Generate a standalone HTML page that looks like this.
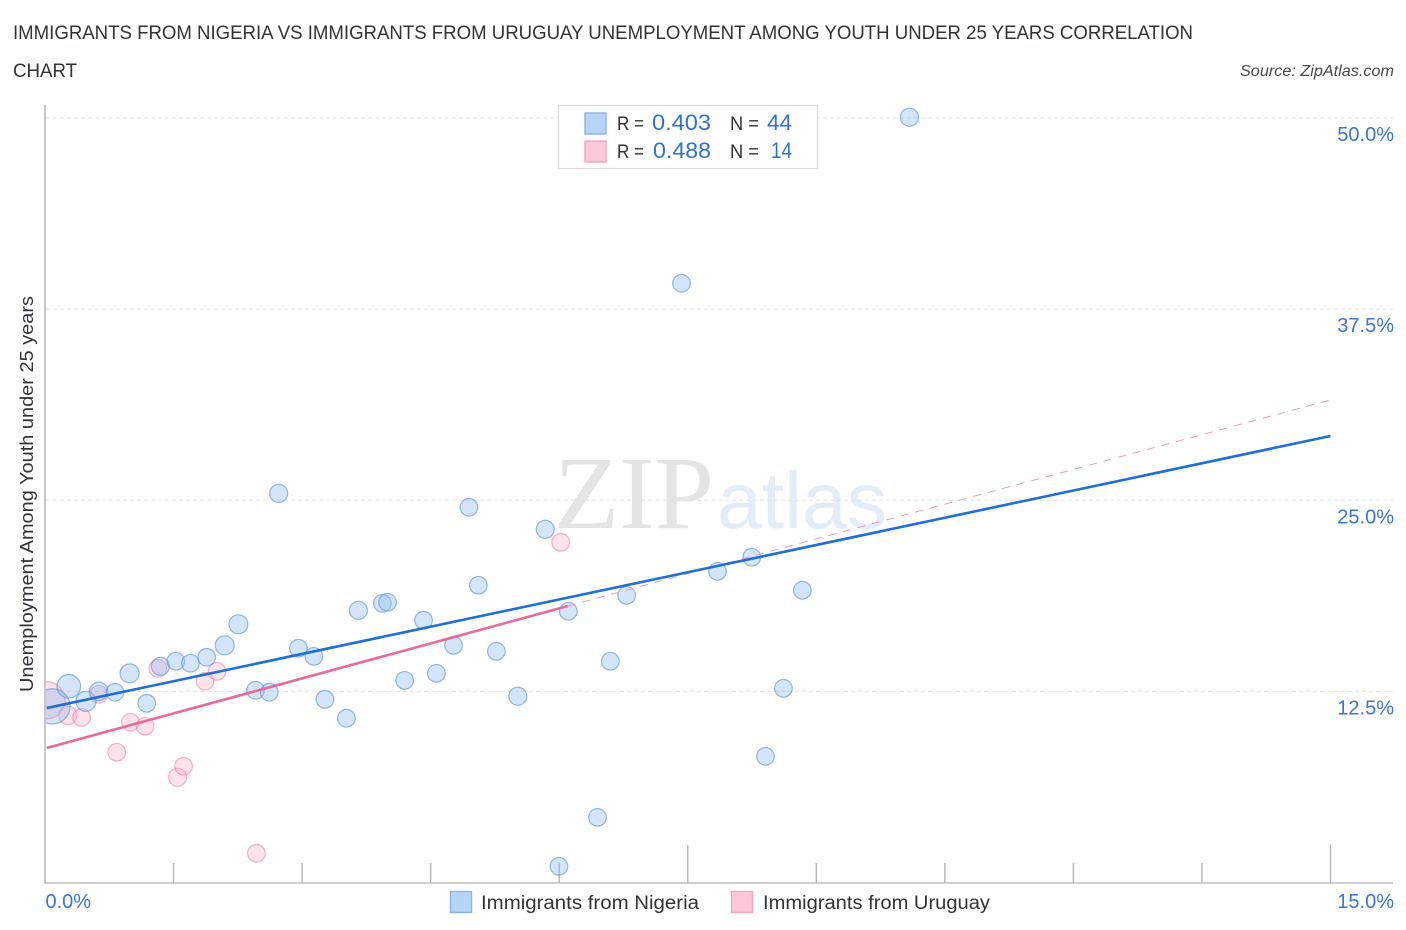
<!DOCTYPE html>
<html lang="en">
<head>
<meta charset="utf-8">
<title>Immigrants from Nigeria vs Immigrants from Uruguay Unemployment Among Youth Under 25 Years Correlation Chart</title>
<style>
  html, body { margin: 0; padding: 0; background: #ffffff; }
  svg { display: block; font-family: "Liberation Sans", sans-serif; }
</style>
</head>
<body>
<svg id="chart" width="1406" height="930" viewBox="0 0 1406 930" xmlns="http://www.w3.org/2000/svg">
  <defs>
    <clipPath id="plot-clip"><rect x="46" y="100" width="1350" height="782"></rect></clipPath>
  </defs>
  <rect x="0" y="0" width="1406" height="930" fill="#ffffff"></rect>

  <text x="13" y="39" font-size="19.5" fill="#2f3338" textLength="1180" lengthAdjust="spacingAndGlyphs">IMMIGRANTS FROM NIGERIA VS IMMIGRANTS FROM URUGUAY UNEMPLOYMENT AMONG YOUTH UNDER 25 YEARS CORRELATION</text>
  <text x="13" y="77" font-size="19.5" fill="#2f3338" textLength="64" lengthAdjust="spacingAndGlyphs">CHART</text>
  <text x="1394" y="76" font-size="15.5" font-style="italic" fill="#44484d" text-anchor="end" textLength="154" lengthAdjust="spacingAndGlyphs">Source: ZipAtlas.com</text>

  <g id="watermark">
    <text x="554" y="528" font-family="'Liberation Serif', serif" font-size="104" fill="#e4e4e4" textLength="160" lengthAdjust="spacingAndGlyphs">ZIP</text>
    <text x="717" y="528" font-size="80" fill="#e3ecf9" textLength="170" lengthAdjust="spacingAndGlyphs">atlas</text>
  </g>

  <g id="grid-layer"></g>
  <g id="axis-layer"></g>
  <g clip-path="url(#plot-clip)">
    <g id="uruguay-points" transform="translate(0.6,0.3)"></g>
    <g id="nigeria-points" transform="translate(0.6,0.3)"></g>
  </g>
  <g id="trend-layer"></g>

  <text transform="translate(33,494) rotate(-90)" font-size="18.5" fill="#2f3338" text-anchor="middle" textLength="396" lengthAdjust="spacingAndGlyphs">Unemployment Among Youth under 25 years</text>

  <g>
    <rect x="558.5" y="105.5" width="259" height="63" fill="#ffffff" stroke="#dcdcdc" stroke-width="1.2"></rect>
    <rect x="585" y="113" width="21" height="21" fill="#b8d3f8" stroke="#8db4e8" stroke-width="1.4"></rect>
    <rect x="585" y="141" width="21" height="21" fill="#fcc8da" stroke="#f2a6bf" stroke-width="1.4"></rect>
    <text x="617" y="130" font-size="19" fill="#2f3338" textLength="27" lengthAdjust="spacingAndGlyphs">R =</text>
    <text x="711" y="130" font-size="22" fill="#2f72d4" text-anchor="end" textLength="59" lengthAdjust="spacingAndGlyphs">0.403</text>
    <text x="730" y="130" font-size="19" fill="#2f3338" textLength="29" lengthAdjust="spacingAndGlyphs">N =</text>
    <text x="792" y="130" font-size="22" fill="#2f72d4" text-anchor="end" textLength="25" lengthAdjust="spacingAndGlyphs">44</text>
    <text x="617" y="158" font-size="19" fill="#2f3338" textLength="27" lengthAdjust="spacingAndGlyphs">R =</text>
    <text x="711" y="158" font-size="22" fill="#2f72d4" text-anchor="end" textLength="58" lengthAdjust="spacingAndGlyphs">0.488</text>
    <text x="730" y="158" font-size="19" fill="#2f3338" textLength="29" lengthAdjust="spacingAndGlyphs">N =</text>
    <text x="792" y="158" font-size="22" fill="#2f72d4" text-anchor="end" textLength="21" lengthAdjust="spacingAndGlyphs">14</text>
  </g>

  <g>
    <rect x="450.5" y="891.5" width="21" height="21" fill="#b8d3f8" stroke="#8db4e8" stroke-width="1.4"></rect>
    <text x="481" y="909" font-size="19" fill="#2f3338" textLength="218" lengthAdjust="spacingAndGlyphs">Immigrants from Nigeria</text>
    <rect x="731.5" y="891.5" width="21" height="21" fill="#fcc8da" stroke="#f2a6bf" stroke-width="1.4"></rect>
    <text x="763" y="909" font-size="19" fill="#2f3338" textLength="227" lengthAdjust="spacingAndGlyphs">Immigrants from Uruguay</text>
  </g>
</svg>

<script>
// Chart data
var yTickValues = [12.5, 25, 37.5, 50];
var yTickLabels = ["12.5%", "25.0%", "37.5%", "50.0%"];
var xTickValues = [0, 1.5, 3, 4.5, 6, 7.5, 9, 10.5, 12, 13.5, 15];
var xMajorTicks = [7.5, 15];
var xEndValues = [0, 15];
var xEndLabels = ["0.0%", "15.0%"];

var nigeriaX = [0.08, 0.27, 0.47, 0.62, 0.81, 0.98, 1.18, 1.34, 1.52, 1.69, 1.88, 2.09, 2.25, 2.45, 2.61, 2.72, 2.95, 3.13, 3.26, 3.51, 3.65, 3.93, 3.99, 4.19, 4.41, 4.56, 4.76, 4.94, 5.05, 5.26, 5.51, 5.83, 5.99, 6.10, 6.44, 6.59, 6.78, 7.42, 7.84, 8.24, 8.40, 8.61, 8.83, 10.08];
var nigeriaY = [11.54, 12.85, 11.87, 12.52, 12.46, 13.70, 11.74, 14.16, 14.49, 14.36, 14.75, 15.53, 16.91, 12.59, 12.46, 25.47, 15.34, 14.81, 12.00, 10.76, 17.82, 18.28, 18.35, 13.24, 17.17, 13.70, 15.53, 24.56, 19.46, 15.14, 12.20, 23.12, 1.08, 17.76, 4.28, 14.49, 18.80, 39.21, 20.37, 21.29, 8.27, 12.72, 19.13, 50.07];
var nigeriaWeight = [4, 1.8, 1.3, 1.1, 1, 1.15, 1, 1.05, 1, 1, 1, 1.15, 1.15, 1, 1, 1.05, 1, 1, 1, 1, 1.05, 1, 1, 1, 1, 1, 1, 1, 1, 1, 1.05, 1.05, 1, 1, 1, 1, 1, 1, 1, 1, 1, 1, 1, 1.05];

var uruguayX = [0.01, 0.26, 0.42, 0.62, 0.83, 0.99, 1.16, 1.31, 1.54, 1.61, 1.86, 2.00, 2.46, 6.01];
var uruguayY = [11.94, 10.95, 10.82, 12.33, 8.54, 10.50, 10.24, 14.03, 6.90, 7.62, 13.18, 13.83, 1.93, 22.27];
var uruguayWeight = [4.5, 1.1, 1, 1, 1, 1, 1, 1, 1.05, 1, 1, 1, 1, 1];

var nigeriaTrendX = [0.02, 15];
var nigeriaTrendY = [11.41, 29.20];
var uruguayTrendX = [0.02, 6.10];
var uruguayTrendY = [8.80, 18.08];
var uruguayDashX = [6.10, 15];
var uruguayDashY = [18.08, 31.56];

// Axis functions
function xScale(v) { return 45 + v * 85.7; }
function yScale(v) { return 882.5 - v * 15.29; }
function radius(w) { return 8.8 * Math.sqrt(w); }

var NS = "http://www.w3.org/2000/svg";
function make(tag, attrs, parent) {
  var el = document.createElementNS(NS, tag);
  for (var k in attrs) { el.setAttribute(k, attrs[k]); }
  parent.appendChild(el);
  return el;
}

var gridLayer = document.getElementById("grid-layer");
var axisLayer = document.getElementById("axis-layer");
var trendLayer = document.getElementById("trend-layer");

yTickValues.forEach(function (v, i) {
  var line = make("line", { x1: 46, x2: 1393, y1: yScale(v), y2: yScale(v), stroke: "#e2e2e2", "stroke-width": 1, "stroke-dasharray": "4 3" }, gridLayer);
  
  
  var label = make("text", { x: 1394, y: yScale(v) + 23, "font-size": 20, fill: "#3b74d6", "text-anchor": "end" }, axisLayer);
  
  
  label.textContent = yTickLabels[i];
});

var yAxis = make("line", { x1: 45, x2: 45, y1: 105, y2: 883, stroke: "#b5b5b5", "stroke-width": 1.5 }, axisLayer);



var xAxis = make("line", { x1: 44, x2: 1393, y1: 883, y2: 883, stroke: "#bdbdbd", "stroke-width": 1.6 }, axisLayer);



xTickValues.forEach(function (v) {
  if (v === 0) { return; }
  var top = xMajorTicks.indexOf(v) >= 0 ? 845 : 863;
  var tick = make("line", { x1: xScale(v), x2: xScale(v), y1: top, y2: 883, stroke: "#b5b5b5", "stroke-width": 1.4 }, axisLayer);
  
  
});

xEndValues.forEach(function (v, i) {
  var anchor = i === 0 ? "start" : "end";
  var px = i === 0 ? xScale(v) + 0.5 : 1394;
  var label = make("text", { x: px, y: 908, "font-size": 20, fill: "#3b74d6", "text-anchor": anchor }, axisLayer);
  
  
  label.textContent = xEndLabels[i];
});

function drawPoints(layerId, xs, ys, ws, fill, stroke, name) {
  var layer = document.getElementById(layerId);
  xs.forEach(function (x, i) {
    var c = make("circle", { cx: xScale(x), cy: yScale(ys[i]), r: radius(ws[i]), fill: fill, stroke: stroke, "stroke-width": 1.2 }, layer);
    
    
  });
}
drawPoints("uruguay-points", uruguayX, uruguayY, uruguayWeight, "rgba(247,170,195,0.34)", "rgba(236,130,165,0.6)", "uruguay-point");
drawPoints("nigeria-points", nigeriaX, nigeriaY, nigeriaWeight, "rgba(150,190,240,0.40)", "rgba(80,140,215,0.6)", "nigeria-point");

var dash = make("line", { x1: xScale(uruguayDashX[0]), y1: yScale(uruguayDashY[0]), x2: xScale(uruguayDashX[1]), y2: yScale(uruguayDashY[1]), stroke: "#eb9ab5", "stroke-width": 1, "stroke-dasharray": "8 7" }, trendLayer);



var pinkLine = make("line", { x1: xScale(uruguayTrendX[0]), y1: yScale(uruguayTrendY[0]), x2: xScale(uruguayTrendX[1]), y2: yScale(uruguayTrendY[1]), stroke: "#e96a9a", "stroke-width": 2.6 }, trendLayer);



var blueLine = make("line", { x1: xScale(nigeriaTrendX[0]), y1: yScale(nigeriaTrendY[0]), x2: xScale(nigeriaTrendX[1]), y2: yScale(nigeriaTrendY[1]), stroke: "#1f6fd6", "stroke-width": 2.6 }, trendLayer);


</script>
</body>
</html>
